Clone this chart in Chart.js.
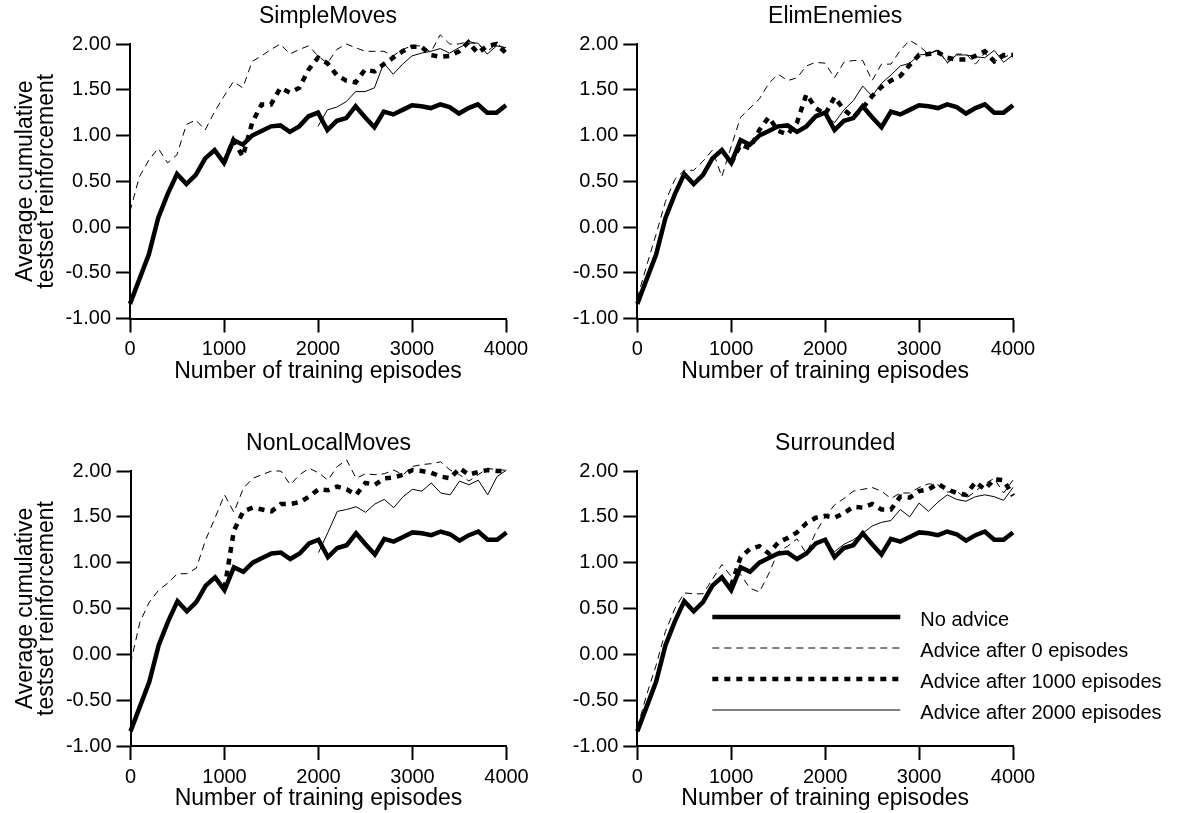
<!DOCTYPE html>
<html lang="en">
<head>
<meta charset="UTF-8">
<title>Average cumulative testset reinforcement</title>
<script src="https://cdn.jsdelivr.net/npm/chart.js"></script>
<style>
  body { margin: 0; background: #fff; }
  #page { position: relative; width: 1179px; height: 813px; overflow: hidden; }
  canvas { position: absolute; }
</style>
</head>
<body>
<div id="page">
  <canvas id="simpleMoves" width="560" height="395" style="left:0;top:0"></canvas>
  <canvas id="elimEnemies" width="619" height="395" style="left:560px;top:0"></canvas>
  <canvas id="nonLocalMoves" width="560" height="386" style="left:0;top:427px"></canvas>
  <canvas id="surrounded" width="619" height="386" style="left:560px;top:427px"></canvas>
</div>

<script>
const FONT = '"Liberation Sans", Arial, sans-serif';

// x categories (training episodes) and axis ticks
const episodes = [0, 100, 200, 300, 400, 500, 600, 700, 800, 900, 1000,
  1100, 1200, 1300, 1400, 1500, 1600, 1700, 1800, 1900, 2000,
  2100, 2200, 2300, 2400, 2500, 2600, 2700, 2800, 2900, 3000,
  3100, 3200, 3300, 3400, 3500, 3600, 3700, 3800, 3900, 4000];
const xTicks = [0, 1000, 2000, 3000, 4000];
const yTicks = [-1, -0.5, 0, 0.5, 1, 1.5, 2];

const seriesLabels = ['No advice', 'Advice after 0 episodes', 'Advice after 1000 episodes', 'Advice after 2000 episodes'];

// same baseline in every panel
const noAdvice = [-0.84, -0.57, -0.30, 0.10, 0.36, 0.58, 0.47, 0.57, 0.75, 0.84,
  0.70, 0.95, 0.90, 1.00, 1.05, 1.10, 1.11, 1.04, 1.10, 1.21,
  1.25, 1.06, 1.16, 1.19, 1.32, 1.20, 1.09, 1.26, 1.23, 1.28,
  1.33, 1.32, 1.30, 1.34, 1.31, 1.24, 1.30, 1.34, 1.25, 1.25, 1.33];

// SimpleMoves (advice-after-1000 starts at episode 1000, after-2000 at 2000)
const simpleAdvice0 = [0.17, 0.55, 0.73, 0.86, 0.70, 0.79, 1.12, 1.17, 1.06, 1.26,
  1.43, 1.59, 1.52, 1.81, 1.87, 1.94, 2.00, 1.89, 1.94, 1.98,
  1.87, 1.79, 1.94, 2.00, 1.96, 1.92, 1.92, 1.92, 1.87, 1.94,
  1.98, 1.98, 1.91, 2.10, 2.00, 2.00, 2.03, 2.00, 1.92, 2.00, 1.94];
const simpleAdvice1000 = [0.70, 0.95, 0.77, 1.14, 1.34, 1.34, 1.52, 1.47, 1.52, 1.72,
  1.85, 1.79, 1.66, 1.60, 1.58, 1.72, 1.70, 1.78, 1.85, 1.92,
  1.97, 1.97, 1.88, 1.86, 1.87, 1.92, 2.02, 1.90, 1.98, 2.00, 1.90];
const simpleAdvice2000 = [1.10, 1.28, 1.31, 1.37, 1.48, 1.48, 1.52, 1.79, 1.67, 1.78,
  1.87, 1.90, 1.92, 1.95, 1.90, 1.96, 2.01, 2.01, 1.89, 1.98, 1.96];

// ElimEnemies
const elimAdvice0 = [-0.78, -0.42, -0.08, 0.28, 0.52, 0.62, 0.62, 0.72, 0.84, 0.55,
  0.88, 1.20, 1.30, 1.40, 1.57, 1.67, 1.60, 1.63, 1.76, 1.80,
  1.79, 1.63, 1.80, 1.82, 1.82, 1.60, 1.78, 1.78, 1.93, 2.04,
  1.98, 1.89, 1.94, 1.79, 1.89, 1.89, 1.78, 1.90, 1.81, 1.85, 1.90];
const elimAdvice1000 = [0.70, 0.90, 0.86, 1.06, 1.20, 1.05, 1.01, 1.14, 1.45, 1.30,
  1.23, 1.42, 1.28, 1.20, 1.30, 1.43, 1.53, 1.60, 1.65, 1.77,
  1.88, 1.89, 1.91, 1.85, 1.83, 1.83, 1.87, 1.92, 1.81, 1.88, 1.88];
const elimAdvice2000 = [1.22, 1.14, 1.28, 1.38, 1.54, 1.43, 1.57, 1.66, 1.76, 1.79,
  1.88, 1.89, 1.93, 1.80, 1.88, 1.88, 1.86, 1.85, 1.93, 1.80, 1.88];

// NonLocalMoves
const nonLocalAdvice0 = [-0.10, 0.35, 0.57, 0.70, 0.78, 0.88, 0.88, 0.94, 1.25, 1.49,
  1.74, 1.55, 1.81, 1.92, 1.96, 2.00, 2.00, 1.85, 1.96, 2.03,
  1.98, 1.90, 2.05, 2.12, 1.92, 1.97, 1.96, 1.97, 2.01, 1.96,
  2.05, 2.07, 2.08, 2.10, 2.01, 1.96, 1.89, 1.96, 2.03, 2.01, 2.01];
const nonLocalAdvice1000 = [0.72, 1.35, 1.56, 1.60, 1.58, 1.56, 1.64, 1.64, 1.66, 1.72,
  1.80, 1.79, 1.83, 1.80, 1.74, 1.87, 1.85, 1.92, 1.93, 1.96,
  2.01, 2.00, 1.98, 1.94, 1.92, 2.03, 1.96, 1.99, 2.01, 2.00, 2.00];
const nonLocalAdvice2000 = [1.11, 1.33, 1.56, 1.58, 1.61, 1.55, 1.64, 1.69, 1.60, 1.72,
  1.80, 1.78, 1.87, 1.76, 1.74, 1.89, 1.85, 1.90, 1.74, 1.94, 2.01];

// Surrounded
const surroundedAdvice0 = [-0.80, -0.44, -0.12, 0.25, 0.50, 0.67, 0.66, 0.66, 0.82, 0.98,
  0.85, 0.87, 0.72, 0.68, 0.88, 1.12, 1.18, 1.26, 1.10, 1.33,
  1.50, 1.63, 1.70, 1.78, 1.80, 1.82, 1.78, 1.70, 1.76, 1.76,
  1.82, 1.86, 1.85, 1.77, 1.78, 1.70, 1.78, 1.86, 1.92, 1.76, 1.90];
const surroundedAdvice1000 = [0.75, 1.06, 1.15, 1.18, 1.10, 1.22, 1.27, 1.33, 1.43, 1.49,
  1.51, 1.49, 1.54, 1.61, 1.60, 1.64, 1.58, 1.58, 1.72, 1.71,
  1.78, 1.80, 1.86, 1.80, 1.76, 1.74, 1.88, 1.80, 1.91, 1.90, 1.73];
const surroundedAdvice2000 = [1.20, 1.12, 1.20, 1.25, 1.32, 1.40, 1.44, 1.46, 1.58, 1.50,
  1.65, 1.56, 1.66, 1.74, 1.69, 1.67, 1.72, 1.74, 1.72, 1.68, 1.82];

function points(values, startIndex) {
  return values.map((v, i) => ({ x: episodes[startIndex + i], y: v }));
}

// panel title, centred a little right of the plot like the original figure
const panelTitle = {
  id: 'panelTitle',
  afterDraw(chart, args, opts) {
    const { ctx, chartArea } = chart;
    ctx.save();
    ctx.fillStyle = '#000';
    ctx.font = '23px ' + FONT;
    ctx.textAlign = 'center';
    ctx.textBaseline = 'middle';
    ctx.fillText(opts.text, (chartArea.left + chartArea.right) / 2 + 10, chartArea.top - 27);
    ctx.restore();
  }
};

// legend drawn inside the plot area of the last panel
const insideLegend = {
  id: 'insideLegend',
  afterDatasetsDraw(chart, args, opts) {
    if (!opts.show) return;
    const { ctx, chartArea } = chart;
    ctx.save();
    chart.data.datasets.forEach((ds, i) => {
      const y = chartArea.top + 146 + i * 31;
      ctx.beginPath();
      ctx.lineWidth = ds.borderWidth;
      ctx.strokeStyle = ds.borderColor;
      ctx.setLineDash(ds.borderDash || []);
      ctx.moveTo(chartArea.left + 75, y);
      ctx.lineTo(chartArea.left + 263, y);
      ctx.stroke();
      ctx.setLineDash([]);
      ctx.fillStyle = '#000';
      ctx.font = '20px ' + FONT;
      ctx.textBaseline = 'middle';
      ctx.fillText(ds.label, chartArea.left + 283, y + 3);
    });
    ctx.restore();
  }
};

function makePanel(canvasId, title, adv0, adv1000, adv2000, opts) {
  const datasets = [
    { label: seriesLabels[0], data: points(noAdvice, 0), borderWidth: 4.5 },
    { label: seriesLabels[1], data: points(adv0, 0), borderWidth: 1, borderDash: [7, 5] },
    { label: seriesLabels[2], data: points(adv1000, 10), borderWidth: 4.5, borderDash: [6, 6] },
    { label: seriesLabels[3], data: points(adv2000, 20), borderWidth: 1 }
  ].map(d => Object.assign({ borderColor: '#000', pointRadius: 0, tension: 0, fill: false, clip: false }, d));

  return new Chart(document.getElementById(canvasId), {
    type: 'line',
    data: { datasets },
    options: {
      responsive: false,
      animation: false,
      layout: { padding: { left: 0, top: 44, right: opts.padRight, bottom: opts.padBottom } },
      plugins: {
        legend: { display: false },
        tooltip: { enabled: false },
        title: { display: false },
        panelTitle: { text: title },
        insideLegend: { show: !!opts.legend }
      },
      scales: {
        x: {
          type: 'linear', min: 0, max: 4000,
          afterBuildTicks: s => { s.ticks = xTicks.map(v => ({ value: v })); },
          afterFit: s => { s.height = 65.5; },
          grid: { drawOnChartArea: false, drawTicks: true, tickLength: 14, tickWidth: 2, tickColor: '#000' },
          border: { display: true, color: '#000', width: 2 },
          ticks: { color: '#000', font: { family: FONT, size: 20 }, padding: 5, maxRotation: 0, autoSkip: false,
                   callback: v => String(v) },
          title: { display: true, text: 'Number of training episodes', color: '#000',
                   font: { family: FONT, size: 23, lineHeight: 1.1 }, padding: 0 }
        },
        y: {
          min: -1, max: 2,
          afterBuildTicks: s => { s.ticks = yTicks.map(v => ({ value: v })); },
          afterFit: s => { s.width = opts.yWidth; },
          grid: { drawOnChartArea: false, drawTicks: true, tickLength: 14, tickWidth: 2, tickColor: '#000' },
          border: { display: true, color: '#000', width: 2 },
          ticks: { color: '#000', font: { family: FONT, size: 20 }, padding: 5, callback: v => v.toFixed(2) },
          title: { display: opts.yTitle, text: ['Average cumulative', 'testset reinforcement'], color: '#000',
                   font: { family: FONT, size: 23, lineHeight: 0.92 }, padding: { top: 15.4, bottom: 0 } }
        }
      }
    },
    plugins: [panelTitle, insideLegend]
  });
}

makePanel('simpleMoves', 'SimpleMoves', simpleAdvice0, simpleAdvice1000, simpleAdvice2000,
  { yWidth: 130, padRight: 54, padBottom: 11, yTitle: true });
makePanel('elimEnemies', 'ElimEnemies', elimAdvice0, elimAdvice1000, elimAdvice2000,
  { yWidth: 77.3, padRight: 166, padBottom: 11, yTitle: false });
makePanel('nonLocalMoves', 'NonLocalMoves', nonLocalAdvice0, nonLocalAdvice1000, nonLocalAdvice2000,
  { yWidth: 130.5, padRight: 53.5, padBottom: 1.5, yTitle: true });
makePanel('surrounded', 'Surrounded', surroundedAdvice0, surroundedAdvice1000, surroundedAdvice2000,
  { yWidth: 77.3, padRight: 166, padBottom: 1.5, yTitle: false, legend: true });
</script>
</body>
</html>
